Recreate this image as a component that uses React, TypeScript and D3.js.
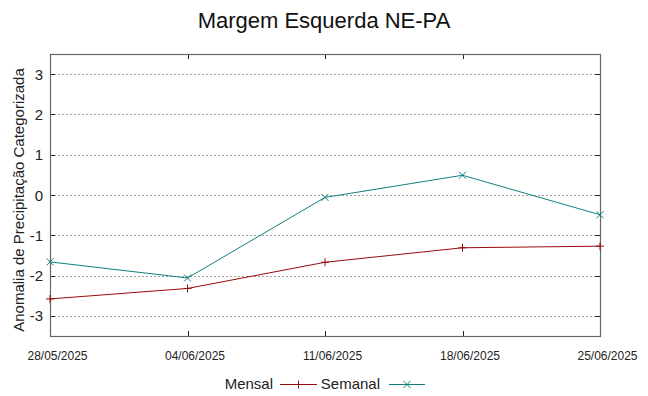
import React from "react";
import * as d3 from "d3";

const dates = ["28/05/2025", "04/06/2025", "11/06/2025", "18/06/2025", "25/06/2025"];
const mensal = [-2.58, -2.32, -1.67, -1.31, -1.27];
const semanal = [-1.66, -2.06, -0.06, 0.49, -0.49];
const yTicks = [-3, -2, -1, 0, 1, 2, 3];
const title = "Margem Esquerda NE-PA";
const yLabel = "Anomalia de Precipitação Categorizada";

const W = 648, H = 396;
const L = 50, R = 600, T = 54, B = 336;
const FONT = "'Liberation Sans', Arial, sans-serif";
const RED = "#9b0a0a";
const TEAL = "#10807f";

export default function App() {
  const parse = d3.timeParse("%d/%m/%Y");
  const times = dates.map((d) => parse(d) as Date);
  const x = d3.scaleTime().domain([times[0], times[times.length - 1]]).range([L, R]);
  const y = d3.scaleLinear().domain([-3.5, 3.5]).range([B, T]);
  const line = d3.line<number>().x((_, i) => x(times[i])).y((v) => y(v));

  const plus = (cx: number, cy: number, s = 4) => `M${cx - s},${cy}H${cx + s}M${cx},${cy - s}V${cy + s}`;
  const cross = (cx: number, cy: number, s = 3.5) =>
    `M${cx - s},${cy - s}L${cx + s},${cy + s}M${cx - s},${cy + s}L${cx + s},${cy - s}`;

  return (
    <svg width={W} height={H} style={{ position: "absolute", left: 0, top: 0, background: "#fff" }}>
      <rect x={0} y={0} width={W} height={H} fill="#fff" />
      <text x={324} y={28} textAnchor="middle" fontFamily={FONT} fontSize={22} fill="#111">{title}</text>
      {/* grid */}
      {yTicks.map((t) => (
        <line key={"g" + t} x1={L} x2={R} y1={Math.round(y(t)) + 0.5} y2={Math.round(y(t)) + 0.5}
          stroke="#a0a0a0" strokeWidth={1} strokeDasharray="2,2" />
      ))}
      {/* y ticks */}
      {yTicks.map((t) => (
        <g key={"t" + t}>
          <line x1={L} x2={L + 5} y1={Math.round(y(t)) + 0.5} y2={Math.round(y(t)) + 0.5} stroke="#222" />
          <line x1={R - 5} x2={R} y1={Math.round(y(t)) + 0.5} y2={Math.round(y(t)) + 0.5} stroke="#222" />
          <text x={43} y={y(t) + 5.5} textAnchor="end" fontFamily={FONT} fontSize={15} fill="#222">{t}</text>
        </g>
      ))}
      {/* x ticks */}
      {times.map((d, i) => (
        <g key={"x" + i}>
          <line x1={Math.round(x(d)) + 0.5} x2={Math.round(x(d)) + 0.5} y1={B} y2={B - 5} stroke="#222" />
          <line x1={Math.round(x(d)) + 0.5} x2={Math.round(x(d)) + 0.5} y1={T} y2={T + 5} stroke="#222" />
          <text x={x(d) + 7.5} y={360} textAnchor="middle" fontFamily={FONT} fontSize={12} fill="#222">{dates[i]}</text>
        </g>
      ))}
      <rect x={L + 0.5} y={T + 0.5} width={R - L} height={B - T} fill="none" stroke="#666" strokeWidth={1.2} />
      <text transform={`translate(24,200) rotate(-90)`} textAnchor="middle" fontFamily={FONT} fontSize={15} fill="#222">{yLabel}</text>
      {/* series */}
      <path d={line(mensal) || ""} fill="none" stroke={RED} strokeWidth={1} />
      {mensal.map((v, i) => (
        <path key={"m" + i} d={plus(x(times[i]), y(v))} stroke={RED} strokeWidth={1} />
      ))}
      <path d={line(semanal) || ""} fill="none" stroke={TEAL} strokeWidth={1} />
      {semanal.map((v, i) => (
        <path key={"s" + i} d={cross(x(times[i]), y(v))} stroke={TEAL} strokeWidth={1} />
      ))}
      {/* legend */}
      <text x={273} y={389} textAnchor="end" fontFamily={FONT} fontSize={15} fill="#222">Mensal</text>
      <line x1={280} x2={317} y1={384.5} y2={384.5} stroke={RED} />
      <path d={plus(298.5, 384.5)} stroke={RED} />
      <text x={380} y={389} textAnchor="end" fontFamily={FONT} fontSize={15} fill="#222">Semanal</text>
      <line x1={389} x2={425} y1={384.5} y2={384.5} stroke={TEAL} />
      <path d={cross(407, 384.5)} stroke={TEAL} />
    </svg>
  );
}
